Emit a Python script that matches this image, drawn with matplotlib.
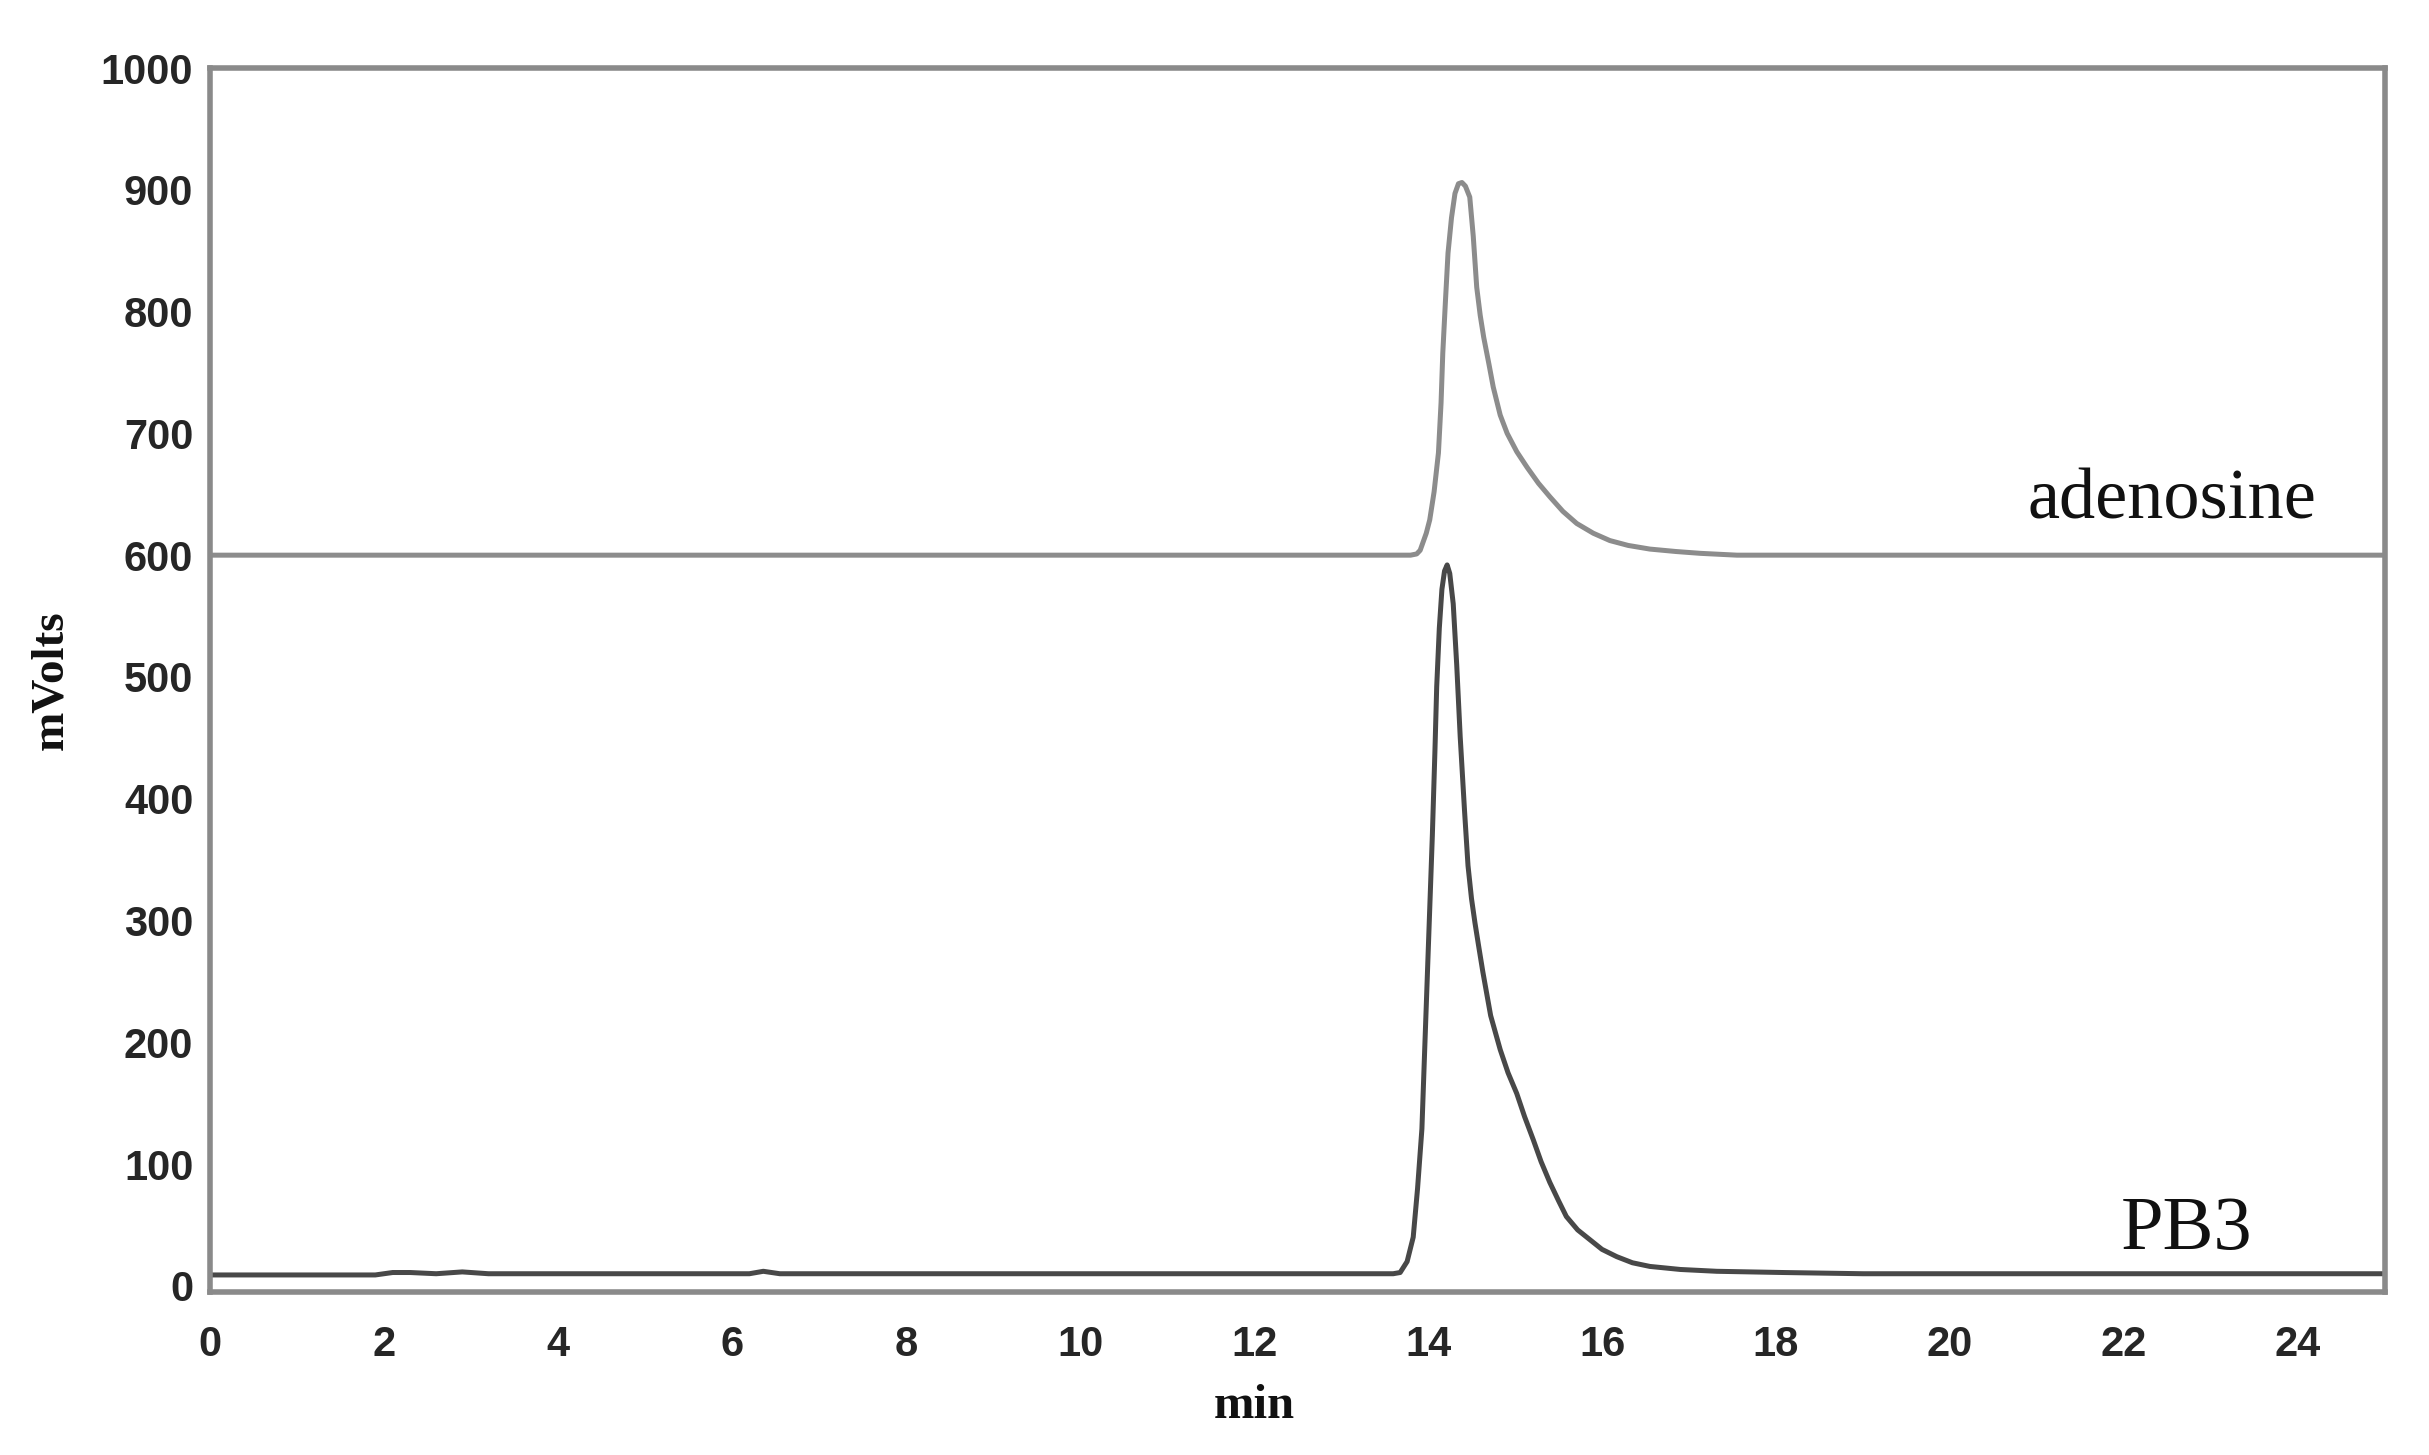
import matplotlib
matplotlib.use("Agg")
import matplotlib.pyplot as plt
from matplotlib import font_manager

# retention time (min) and detector signal (mV)
adenosine_t = [0.0, 5.0, 10.0, 13.5, 13.80, 13.87, 13.91, 13.94, 13.98, 14.02, 14.07,
               14.12, 14.15, 14.17, 14.20, 14.23, 14.27, 14.31, 14.35, 14.39, 14.43,
               14.48, 14.52, 14.56, 14.60, 14.64, 14.70, 14.75, 14.83, 14.91, 15.02,
               15.14, 15.27, 15.40, 15.55, 15.71, 15.90, 16.09, 16.30, 16.55, 16.85,
               17.13, 17.55, 20.0, 25.0]
adenosine_mv = [600, 600, 600, 600, 600, 601, 604, 610, 618, 629, 652,
                684, 725, 766, 808, 848, 877, 897, 905, 906, 903,
                894, 862, 820, 797, 779, 757, 738, 715, 700, 685,
                672, 659, 648, 636, 626, 618, 612, 608, 605, 603,
                601.5, 600, 600, 600]

pb3_t = [0.0, 1.0, 1.9, 2.1, 2.3, 2.6, 2.9, 3.2, 5.0, 6.2, 6.36, 6.55, 8.0, 10.0,
         12.0, 13.5, 13.60, 13.68, 13.76, 13.83, 13.88, 13.93, 13.96, 13.99, 14.02,
         14.05, 14.08, 14.10, 14.13, 14.16, 14.19, 14.22, 14.25, 14.29, 14.33,
         14.37, 14.42, 14.46, 14.50, 14.54, 14.58, 14.63, 14.72, 14.83, 14.92,
         15.02, 15.11, 15.21, 15.30, 15.40, 15.50, 15.59, 15.72, 15.86, 16.00,
         16.17, 16.35, 16.55, 16.90, 17.32, 18.08, 19.0, 21.0, 25.0]
pb3_mv = [9, 9, 9, 11, 11, 10, 11.5, 10, 10, 10, 12, 10, 10, 10,
          10, 10, 10, 11, 20, 40, 80, 129, 190, 250, 310,
          370, 440, 492, 540, 572, 587, 592, 585, 560, 510,
          451, 390, 345, 318, 298, 280, 258, 222, 194, 175,
          158, 139, 120, 102, 85, 70, 57, 46, 38, 30,
          24, 19, 16, 13.5, 12, 11, 10, 10, 10]

x_ticks = list(range(0, 25, 2))
y_ticks = list(range(0, 1001, 100))


def pick(names):
    for n in names:
        try:
            font_manager.findfont(n, fallback_to_default=False)
            return n
        except Exception:
            pass
    return "DejaVu Sans"


tick_font = pick(["Liberation Sans Narrow", "Liberation Sans"])
narrow = tick_font == "Liberation Sans Narrow"
serif = pick(["Liberation Serif", "DejaVu Serif"])

fig = plt.figure(figsize=(24.29, 14.55), dpi=100)
ax = fig.add_axes([210 / 2429, (1455 - 1292) / 1455, (2385 - 210) / 2429, (1292 - 68) / 1455])

ax.plot(adenosine_t, adenosine_mv, color="#8c8c8c", lw=3.6,
        solid_joinstyle="round", solid_capstyle="round")
ax.plot(pb3_t, pb3_mv, color="#484848", lw=3.6,
        solid_joinstyle="round", solid_capstyle="round")

ax.set_xlim(0, 25)
ax.set_ylim(-5, 1000)
ax.set_xticks(x_ticks)
ax.set_yticks(y_ticks)

tsize = 35 if narrow else 30
ax.tick_params(length=0, labelsize=tsize, labelcolor="#262626")
ax.tick_params(axis="x", pad=24)
ax.tick_params(axis="y", pad=12)
for lab in ax.get_xticklabels() + ax.get_yticklabels():
    lab.set_fontfamily(tick_font)
    lab.set_fontweight("bold")

for s in ax.spines.values():
    s.set_color("#8a8a8a")
    s.set_linewidth(4)

ax.set_xlabel("min", fontsize=35, fontweight="bold", family=serif, color="#111111")
ax.xaxis.label.set_va("baseline")
ax.xaxis.set_label_coords(0.48, -0.103)
ax.set_ylabel("mVolts", fontsize=34, fontweight="bold", family=serif, color="#111111")
ax.yaxis.label.set_va("center")
ax.yaxis.set_label_coords(-0.073, 0.5)

ax.text(22.55, 630, "adenosine", fontsize=52, family=serif, ha="center", va="baseline",
        color="#111111")
ax.text(22.72, 30, "PB3", fontsize=55, family=serif, ha="center", va="baseline",
        color="#111111")

fig.savefig("out.png", dpi=100, facecolor="white")
